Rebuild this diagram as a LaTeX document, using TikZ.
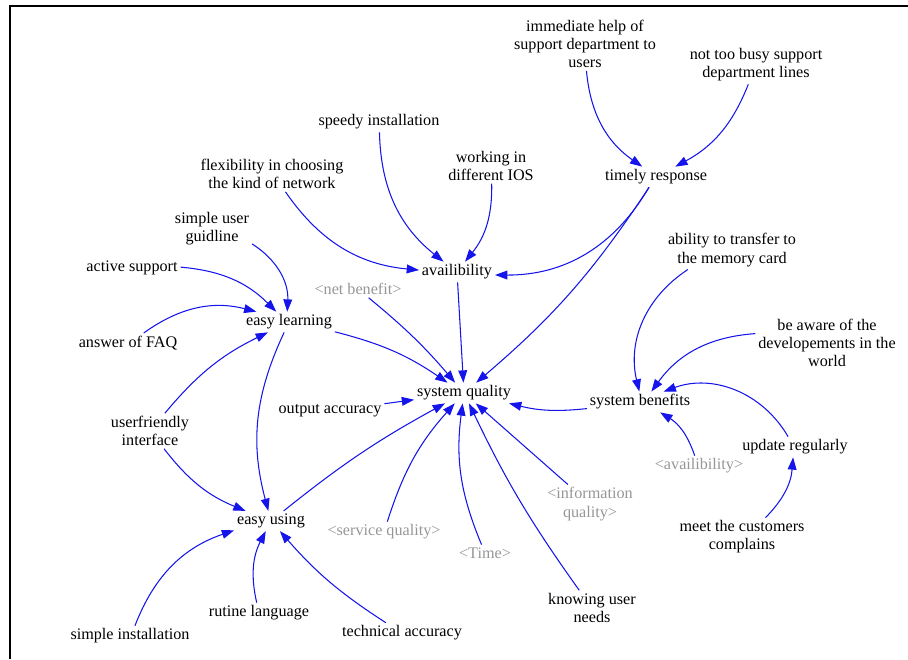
\documentclass[tikz,border=0pt]{standalone}
\usepackage{fontspec}
\setmainfont{Liberation Serif}
\usetikzlibrary{arrows.meta}
\definecolor{cldblue}{RGB}{20, 20, 235}
\definecolor{cldgray}{RGB}{150, 150, 150}

\begin{document}
\begin{tikzpicture}[x=0.02cm, y=-0.02cm,
		var/.style={font=\fontsize{9.2}{10.3}\selectfont, inner sep=1.5pt, align=center},
		shadowvar/.style={var, text=cldgray},
		link/.style={cldblue, line width=0.6pt, -{Triangle[length=7pt, width=5pt]}}]
	\useasboundingbox (0,0) rectangle (908,659);

	% Frame (top and left edge only)
	\draw[line width=1.1pt] (908,6) -- (10,6) -- (10,659);

	% Variables - top
	\node[var] (help) at (585,44) {immediate help of\\support department to\\users};
	\node[var] (busy) at (756,65) {not too busy support\\department lines};
	\node[var] (timely) at (656,177) {timely response};
	\node[var] (speedy) at (379,122) {speedy installation};
	\node[var] (flex) at (272,174) {flexibility in choosing\\the kind of network};
	\node[var] (ios) at (491,166) {working in\\different IOS};
	\node[var] (avail) at (457,272) {availibility};
	\node[var] (guide) at (212,229) {simple user\\guidline};
	\node[var] (active) at (132,268) {active support};
	\node[shadowvar] (netben) at (358,289) {<net benefit>};
	\node[var] (learn) at (289,322) {easy learning};
	\node[var] (faq) at (128,343) {answer of FAQ};

	% Variables - middle
	\node[var] (sysq) at (464,393) {system quality};
	\node[var] (outacc) at (330,411) {output accuracy};
	\node[var] (friendly) at (150,431) {userfriendly\\interface};
	\node[var] (benef) at (640,402) {system benefits};
	\node[var] (memcard) at (732,250) {ability to transfer to\\the memory card};
	\node[var] (aware) at (827,343) {be aware of the\\developements in the\\world};
	\node[var] (update) at (795,447) {update regularly};
	\node[shadowvar] (avail2) at (699,466) {<availibility>};
	\node[shadowvar] (infoq) at (590,504) {<information\\quality>};
	\node[var] (meet) at (742,537) {meet the customers\\complains};

	% Variables - bottom
	\node[var] (using) at (271,521) {easy using};
	\node[shadowvar] (servq) at (384,532) {<service quality>};
	\node[shadowvar] (time) at (485,553) {<Time>};
	\node[var] (needs) at (592,608) {knowing user\\needs};
	\node[var] (simpinst) at (130,636) {simple installation};
	\node[var] (rutine) at (259,613) {rutine language};
	\node[var] (techacc) at (402,633) {technical accuracy};

	% Causal links (source/target/bend)
	\foreach \src/\dst/\bnd in {help/timely/-25, busy/timely/20, timely/avail/30, timely/sysq/8,
			speedy/avail/-25, flex/avail/-25, ios/avail/20,
			guide/learn/30, active/learn/20, faq/learn/25, friendly/learn/12,
			friendly/using/-15, learn/using/-20, learn/sysq/10,
			netben/sysq/5, avail/sysq/0, outacc/sysq/0, using/sysq/5, servq/sysq/12,
			time/sysq/15, needs/sysq/5, infoq/sysq/0, benef/sysq/10,
			memcard/benef/-35, aware/benef/-25, update/benef/-40, avail2/benef/-20,
			meet/update/-20, simpinst/using/25, rutine/using/20, techacc/using/8} {
		\draw[link] (\src) to[bend left=\bnd] (\dst);
	}

\end{tikzpicture}
\end{document}
